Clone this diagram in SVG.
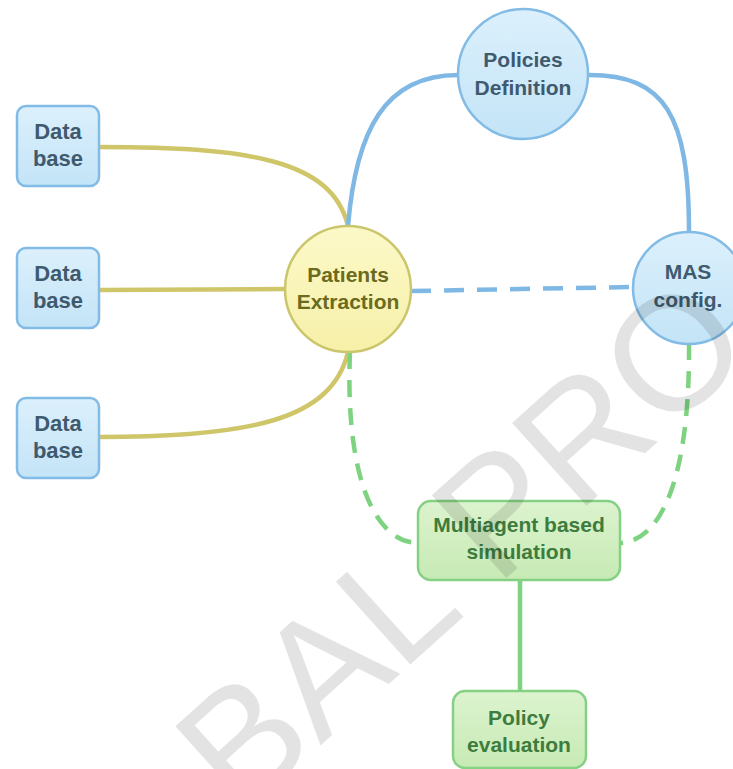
<svg xmlns="http://www.w3.org/2000/svg" width="733" height="769" viewBox="0 0 733 769">
<defs>
<linearGradient id="gb" x1="0" y1="0" x2="0" y2="1"><stop offset="0" stop-color="#dcf0fc"/><stop offset="1" stop-color="#c3e4f7"/></linearGradient>
<linearGradient id="gy" x1="0" y1="0" x2="0" y2="1"><stop offset="0" stop-color="#fcf9c9"/><stop offset="1" stop-color="#f6f0a8"/></linearGradient>
<linearGradient id="gg" x1="0" y1="0" x2="0" y2="1"><stop offset="0" stop-color="#dcf3cf"/><stop offset="1" stop-color="#c7eab4"/></linearGradient>
<style>
text{font-family:"Liberation Sans",Arial,sans-serif;font-weight:bold;font-size:21px;text-anchor:middle}
.b{fill:url(#gb);stroke:#82bbe5;stroke-width:2.5}
.y{fill:url(#gy);stroke:#cbc66c;stroke-width:2.5}
.g{fill:url(#gg);stroke:#84d184;stroke-width:2.5}
.tb{fill:#3f5a6e}
.db{font-size:22px}
.ty{fill:#6b6b20}
.tg{fill:#3d7c3d}
.cb{fill:none;stroke:#7fb8e4;stroke-width:4.5}
.cy{fill:none;stroke:#cfc66a;stroke-width:4.5}
.cg{fill:none;stroke:#7dd37f;stroke-width:4.5}
.wm{font-weight:normal;font-size:162px;fill:#000;fill-opacity:0.11;text-anchor:start}
</style>
</defs>
<g id="connectors">
<path class="cy" d="M99,147 C250,147 332,160 348,226"/>
<path class="cy" d="M99,290 L286,289"/>
<path class="cy" d="M99,437 C250,437 332,420 348,352"/>
<path class="cb" d="M348,226 C356,130 385,75 458,75"/>
<path class="cb" d="M589,75 C665,75 689,115 689,232"/>
<path class="cb" d="M411,291 L633,287" stroke-dasharray="20 13"/>
<path class="cg" d="M350,352 C345,470 372,542 418,543" stroke-dasharray="17 11"/>
<path class="cg" d="M689,343 C690,460 668,540 620,543" stroke-dasharray="17 11"/>
<path class="cg" d="M520,580 L520,691"/>
</g>
<g id="db1"><rect class="b" x="17" y="106" width="82" height="80" rx="9"/><text class="tb db" x="58" y="139">Data</text><text class="tb db" x="58" y="166">base</text></g>
<g id="db2"><rect class="b" x="17" y="248" width="82" height="80" rx="9"/><text class="tb db" x="58" y="281">Data</text><text class="tb db" x="58" y="308">base</text></g>
<g id="db3"><rect class="b" x="17" y="398" width="82" height="80" rx="9"/><text class="tb db" x="58" y="431">Data</text><text class="tb db" x="58" y="458">base</text></g>
<g id="patients"><circle class="y" cx="348" cy="289" r="63"/><text class="ty" x="348" y="282">Patients</text><text class="ty" x="348" y="309">Extraction</text></g>
<g id="policies"><circle class="b" cx="523" cy="74" r="65"/><text class="tb" x="523" y="67">Policies</text><text class="tb" x="523" y="95">Definition</text></g>
<g id="mas"><circle class="b" cx="689" cy="288" r="56"/><text class="tb" x="688" y="279">MAS</text><text class="tb" x="688" y="307">config.</text></g>
<g id="simulation"><rect class="g" x="418" y="501" width="202" height="79" rx="13"/><text class="tg" x="519" y="532">Multiagent based</text><text class="tg" x="519" y="559">simulation</text></g>
<g id="evaluation"><rect class="g" x="453" y="691" width="133" height="77" rx="12"/><text class="tg" x="519" y="725">Policy</text><text class="tg" x="519" y="752">evaluation</text></g>
<text class="wm" transform="translate(240,818) rotate(-42)">BAL PRO</text>
</svg>
